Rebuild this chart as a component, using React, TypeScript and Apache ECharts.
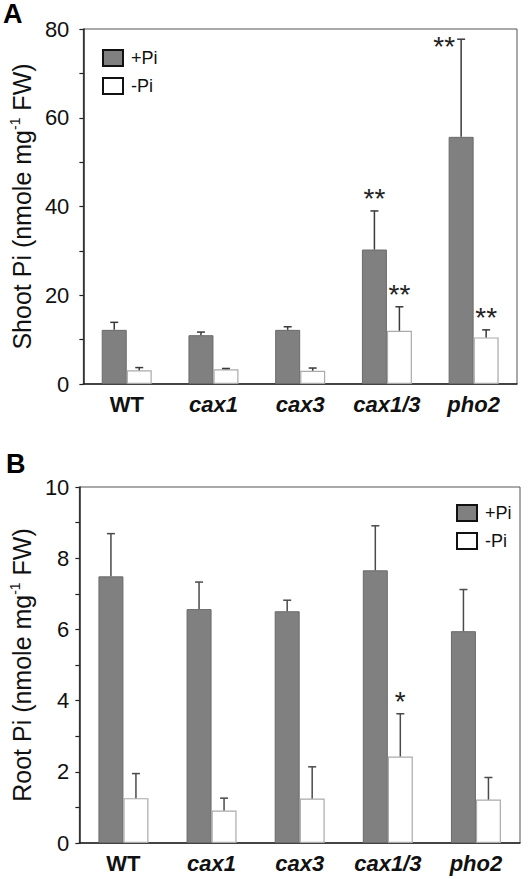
import React, { useEffect, useRef } from "react";
import * as echarts from "echarts";

const categories = ["WT", "cax1", "cax3", "cax1/3", "pho2"];
const seriesNames = ["+Pi", "-Pi"];

// Panel A: shoot Pi
const shootPlus = [12.2, 11.0, 12.2, 30.3, 55.7];
const shootPlusErr = [1.7, 0.7, 0.7, 8.7, 22.0];
const shootPlusSig = ["", "", "", "**", "**"];
const shootMinus = [3.1, 3.3, 3.0, 12.0, 10.5];
const shootMinusErr = [0.6, 0.2, 0.6, 5.4, 1.7];
const shootMinusSig = ["", "", "", "**", "**"];
const shootTicks = [0, 20, 40, 60, 80];

// Panel B: root Pi
const rootPlus = [7.49, 6.57, 6.51, 7.66, 5.95];
const rootPlusErr = [1.2, 0.76, 0.31, 1.25, 1.17];
const rootPlusSig = ["", "", "", "", ""];
const rootMinus = [1.26, 0.91, 1.25, 2.43, 1.22];
const rootMinusErr = [0.69, 0.35, 0.89, 1.2, 0.62];
const rootMinusSig = ["", "", "", "*", ""];
const rootTicks = [0, 2, 4, 6, 8, 10];

const FONT = "'Liberation Sans', Arial, Helvetica, sans-serif";
const TXT = "#111";
const PLUS_FILL = "#808080";
const BAR_W = 25;

function errorSeries(
  idx: number,
  values: number[],
  errs: number[],
  sigs: string[],
  offset: number,
  color: string
) {
  return {
    type: "custom",
    xAxisIndex: idx,
    yAxisIndex: idx,
    z: 5,
    silent: true,
    encode: { x: 0, y: 1 },
    data: values.map((v, i) => [i, v, errs[i]]),
    renderItem: (params: any, api: any) => {
      const ci = api.value(0);
      const v = api.value(1);
      const e = api.value(2);
      const base = api.coord([ci, v]);
      const top = api.coord([ci, v + e]);
      const x = base[0] + offset;
      const children: any[] = [
        {
          type: "line",
          shape: { x1: x, y1: base[1], x2: x, y2: top[1] },
          style: { stroke: color, lineWidth: 1.5 },
        },
        {
          type: "line",
          shape: { x1: x - 4, y1: top[1], x2: x + 4, y2: top[1] },
          style: { stroke: color, lineWidth: 1.5 },
        },
      ];
      const sig = sigs[params.dataIndex];
      if (sig) {
        const cs = params.coordSys;
        const tooHigh = top[1] - 24 < cs.y;
        children.push({
          type: "text",
          x: tooHigh ? x - 17 : x,
          y: tooHigh ? top[1] + 21 : top[1] + 2,
          style: {
            text: sig,
            fontSize: 28,
            fontFamily: FONT,
            fill: "#222",
            align: "center",
            verticalAlign: "bottom",
          },
        });
      }
      return { type: "group", children };
    },
  };
}

function axisName(prefix: string) {
  return `{a|${prefix} (nmole mg}{s|-1}{a| FW)}`;
}

export default function App() {
  const ref = useRef<HTMLDivElement>(null);
  useEffect(() => {
    if (!ref.current) return;
    const chart = echarts.init(ref.current, undefined, { renderer: "svg" });
    const grids = [
      { left: 79, top: 29, width: 438, height: 355 },
      { left: 74, top: 487, width: 446, height: 356 },
    ];
    const yDefs = [
      { max: 80, interval: 10, ticks: shootTicks, name: axisName("Shoot Pi") },
      { max: 10, interval: 1, ticks: rootTicks, name: axisName("Root Pi") },
    ];
    const catLabel = {
      interval: 0,
      fontFamily: FONT,
      fontSize: 22,
      color: TXT,
      margin: 9,
      formatter: (v: string) => (v === "WT" ? `{n|${v}}` : `{i|${v}}`),
      rich: {
        n: { fontFamily: FONT, fontSize: 22, fontWeight: "bold", color: TXT },
        i: { fontFamily: FONT, fontSize: 22, fontWeight: "bold", fontStyle: "italic", color: TXT },
      },
    };
    const option: any = {
      animation: false,
      backgroundColor: "#fff",
      textStyle: { fontFamily: FONT },
      grid: grids.map((g) => ({
        ...g,
        show: true,
        borderColor: "#555",
        borderWidth: 1,
        backgroundColor: "transparent",
        containLabel: false,
      })),
      legend: [
        { left: 102, top: 49 },
        { left: 456, top: 504 },
      ].map((p) => ({
        ...p,
        orient: "vertical",
        data: seriesNames,
        icon: "rect",
        itemWidth: 20,
        itemHeight: 16,
        itemGap: 10,
        padding: 0,
        selectedMode: false,
        itemStyle: { borderColor: "#111", borderWidth: 2 },
        textStyle: { fontFamily: FONT, fontSize: 18, color: TXT, padding: [0, 0, 0, 3] },
      })),
      xAxis: grids.map((_, i) => ({
        type: "category",
        gridIndex: i,
        data: categories,
        axisTick: { show: false },
        axisLine: { lineStyle: { color: "#222", width: 1.5 } },
        axisLabel: catLabel,
      })),
      yAxis: yDefs.map((d, i) => ({
        type: "value",
        gridIndex: i,
        min: 0,
        max: d.max,
        interval: d.interval,
        splitLine: { show: false },
        axisLine: { show: true, lineStyle: { color: "#222", width: 1.5 } },
        axisTick: { show: true, inside: false, length: 4, lineStyle: { color: "#222", width: 1.2 } },
        axisLabel: {
          fontFamily: FONT,
          fontSize: 22,
          color: TXT,
          margin: i === 0 ? 14 : 10,
          formatter: (v: number) => (d.ticks.indexOf(v) >= 0 ? String(v) : ""),
        },
        name: d.name,
        nameLocation: "middle",
        nameRotate: 90,
        nameGap: i === 0 ? 47 : 43,
        nameTextStyle: {
          rich: {
            a: { fontFamily: FONT, fontSize: 25, color: TXT, lineHeight: 27 },
            s: { fontFamily: FONT, fontSize: 14, color: TXT, lineHeight: 14, verticalAlign: "top" },
          },
        },
      })),
      graphic: [
        { type: "text", left: 3, top: 0, style: { text: "A", fontFamily: FONT, fontSize: 27, fontWeight: "bold", fill: "#000" } },
        { type: "text", left: 6, top: 450, style: { text: "B", fontFamily: FONT, fontSize: 27, fontWeight: "bold", fill: "#000" } },
      ],
      series: [
        {
          name: "+Pi",
          type: "bar",
          xAxisIndex: 0,
          yAxisIndex: 0,
          data: shootPlus,
          barWidth: BAR_W,
          barGap: "0%",
          itemStyle: { color: PLUS_FILL, borderColor: "#6a6a6a", borderWidth: 1 },
        },
        {
          name: "-Pi",
          type: "bar",
          xAxisIndex: 0,
          yAxisIndex: 0,
          data: shootMinus,
          barWidth: BAR_W,
          barGap: "0%",
          itemStyle: { color: "#fff", borderColor: "#aaa", borderWidth: 1.2 },
        },
        {
          name: "+Pi",
          type: "bar",
          xAxisIndex: 1,
          yAxisIndex: 1,
          data: rootPlus,
          barWidth: BAR_W,
          barGap: "0%",
          itemStyle: { color: PLUS_FILL, borderColor: "#6a6a6a", borderWidth: 1 },
        },
        {
          name: "-Pi",
          type: "bar",
          xAxisIndex: 1,
          yAxisIndex: 1,
          data: rootMinus,
          barWidth: BAR_W,
          barGap: "0%",
          itemStyle: { color: "#fff", borderColor: "#aaa", borderWidth: 1.2 },
        },
        errorSeries(0, shootPlus, shootPlusErr, shootPlusSig, -BAR_W / 2, "#3a3a3a"),
        errorSeries(0, shootMinus, shootMinusErr, shootMinusSig, BAR_W / 2, "#3a3a3a"),
        errorSeries(1, rootPlus, rootPlusErr, rootPlusSig, -BAR_W / 2, "#4a4a4a"),
        errorSeries(1, rootMinus, rootMinusErr, rootMinusSig, BAR_W / 2, "#4a4a4a"),
      ],
    };
    chart.setOption(option);
    return () => chart.dispose();
  }, []);
  return (
    <div
      ref={ref}
      style={{ position: "absolute", left: 0, top: 0, width: 531, height: 879, background: "#fff" }}
    />
  );
}
